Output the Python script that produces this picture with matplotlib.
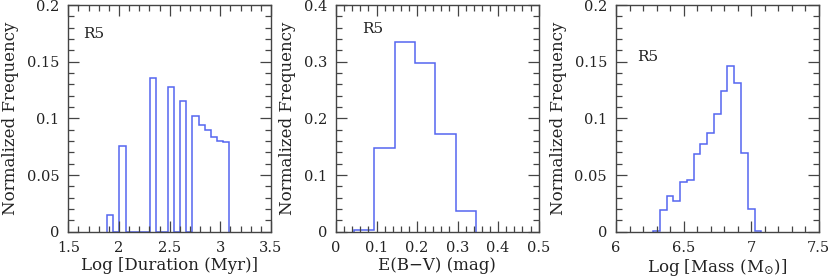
import matplotlib
matplotlib.use("Agg")
import matplotlib.pyplot as plt
from matplotlib.ticker import MultipleLocator, FuncFormatter

plt.rcParams['font.family'] = ['DejaVu Serif']
plt.rcParams['mathtext.fontset'] = 'dejavuserif'

# Panel 1: Log duration
dur_edges = [1.885, 1.945, 2.005, 2.065, 2.125, 2.185, 2.245, 2.305, 2.365, 2.425,
             2.485, 2.545, 2.605, 2.665, 2.725, 2.785, 2.845, 2.905, 2.965, 3.025, 3.085]
dur_freq = [0.0144, 0, 0.0756, 0, 0, 0, 0, 0.136, 0, 0,
            0.128, 0, 0.115, 0, 0.1018, 0.0938, 0.090, 0.0838, 0.080, 0.0788]

# Panel 2: E(B-V)
ebv_edges = [0.045, 0.095, 0.145, 0.195, 0.245, 0.295, 0.345]
ebv_freq = [0.003, 0.148, 0.335, 0.298, 0.172, 0.036]

# Panel 3: Log mass
mass_edges = [6.275, 6.325, 6.375, 6.425, 6.475, 6.525, 6.575, 6.625, 6.675,
              6.725, 6.775, 6.825, 6.875, 6.925, 6.975, 7.025, 7.075]
mass_freq = [0.001, 0.0194, 0.0315, 0.0274, 0.0435, 0.0456, 0.0688, 0.0776,
             0.0868, 0.104, 0.124, 0.1465, 0.1315, 0.0697, 0.0203, 0.001]

panel_label = "R5"
ylabel = "Normalized Frequency"
xlabels = ["Log [Duration (Myr)]", "E(B\u2212V) (mag)", r"Log [Mass (M$_{\odot}$)]"]

line_color = '#5566f0'
axis_color = '#444444'
text_color = '#222222'

fig = plt.figure(figsize=(8.31, 2.79), dpi=100)

specs = [
    dict(left=0.0822, edges=dur_edges, vals=dur_freq, xlim=(1.5, 3.5), ylim=(0, 0.2),
         xmaj=0.5, xmin=0.1, ymaj=0.05, ymin=0.01, lab=(0.074, 0.872)),
    dict(left=0.4043, edges=ebv_edges, vals=ebv_freq, xlim=(0, 0.5), ylim=(0, 0.4),
         xmaj=0.1, xmin=0.02, ymaj=0.1, ymin=0.02, lab=(0.127, 0.894)),
    dict(left=0.7413, edges=mass_edges, vals=mass_freq, xlim=(6, 7.5), ylim=(0, 0.2),
         xmaj=0.5, xmin=0.1, ymaj=0.05, ymin=0.01, lab=(0.105, 0.77)),
]

fmt = FuncFormatter(lambda v, p: ('%g' % round(v, 6)))

for i, s in enumerate(specs):
    ax = fig.add_axes([s['left'], 0.1695, 0.2439, 0.8125])
    ax.stairs(s['vals'], s['edges'], baseline=0, color=line_color, linewidth=1.1)
    ax.set_xlim(*s['xlim'])
    ax.set_ylim(*s['ylim'])
    ax.xaxis.set_major_locator(MultipleLocator(s['xmaj']))
    ax.xaxis.set_minor_locator(MultipleLocator(s['xmin']))
    ax.yaxis.set_major_locator(MultipleLocator(s['ymaj']))
    ax.yaxis.set_minor_locator(MultipleLocator(s['ymin']))
    ax.xaxis.set_major_formatter(fmt)
    ax.yaxis.set_major_formatter(fmt)
    ax.tick_params(which='both', direction='in', top=True, right=True,
                   color=axis_color, labelcolor=text_color, labelsize=10.5, width=0.9)
    ax.tick_params(which='major', length=8)
    ax.tick_params(which='minor', length=4.3)
    ax.tick_params(axis='x', which='major', pad=6.5)
    ax.tick_params(axis='y', which='major', pad=6.5)
    for sp in ax.spines.values():
        sp.set_color(axis_color)
        sp.set_linewidth(1.0)
    ax.set_xlabel(xlabels[i], fontsize=12, color=text_color, va='top')
    ax.xaxis.set_label_coords(0.5, -0.113)
    ax.set_ylabel(ylabel, fontsize=12, color=text_color, labelpad=5.5)
    ax.text(s['lab'][0], s['lab'][1], panel_label, transform=ax.transAxes,
            fontsize=11, color=text_color, ha='left', va='center')

fig.savefig("out.png", dpi=100)
